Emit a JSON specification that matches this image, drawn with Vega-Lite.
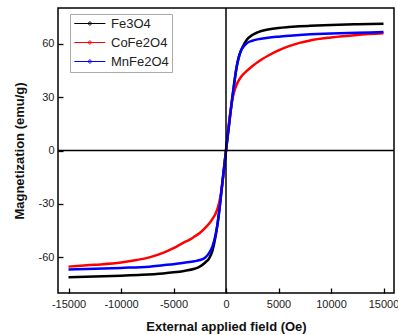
{
  "$schema": "https://vega.github.io/schema/vega-lite/v6.json",
  "width": 336,
  "height": 285,
  "autosize": {"type": "none"},
  "padding": {"left": 58, "top": 8, "right": 4, "bottom": 42},
  "config": {
    "font": "Liberation Sans",
    "view": {"stroke": "#000", "strokeWidth": 1.5},
    "axis": {
      "grid": false, "domain": false, "tickColor": "#000", "tickWidth": 1.3, "labelOverlap": false,
      "labelColor": "#222", "labelFontSize": 11, "labelFont": "Liberation Sans",
      "titleFont": "Liberation Sans", "titleFontSize": 13, "titleFontWeight": "bold", "titleColor": "#111"
    }
  },
  "datasets": {
    "curves": [
      {"H": -15000, "M": -71.2, "s": "Fe3O4"}, {"H": -12500, "M": -70.8, "s": "Fe3O4"}, {"H": -10000, "M": -70.3, "s": "Fe3O4"},
      {"H": -8000, "M": -69.8, "s": "Fe3O4"}, {"H": -6000, "M": -69.0, "s": "Fe3O4"}, {"H": -5000, "M": -68.4, "s": "Fe3O4"},
      {"H": -4000, "M": -67.6, "s": "Fe3O4"}, {"H": -3000, "M": -66.4, "s": "Fe3O4"}, {"H": -2500, "M": -65.2, "s": "Fe3O4"},
      {"H": -2000, "M": -63.0, "s": "Fe3O4"}, {"H": -1600, "M": -60.5, "s": "Fe3O4"}, {"H": -1300, "M": -56.5, "s": "Fe3O4"},
      {"H": -1000, "M": -48.5, "s": "Fe3O4"}, {"H": -800, "M": -41, "s": "Fe3O4"}, {"H": -600, "M": -31.5, "s": "Fe3O4"},
      {"H": -400, "M": -21, "s": "Fe3O4"}, {"H": -200, "M": -10.5, "s": "Fe3O4"}, {"H": 0, "M": 0, "s": "Fe3O4"},
      {"H": 200, "M": 10, "s": "Fe3O4"}, {"H": 400, "M": 20, "s": "Fe3O4"}, {"H": 600, "M": 29.5, "s": "Fe3O4"},
      {"H": 800, "M": 38.5, "s": "Fe3O4"}, {"H": 1000, "M": 46.5, "s": "Fe3O4"}, {"H": 1200, "M": 52, "s": "Fe3O4"},
      {"H": 1500, "M": 57, "s": "Fe3O4"}, {"H": 1750, "M": 60, "s": "Fe3O4"}, {"H": 2000, "M": 62.3, "s": "Fe3O4"},
      {"H": 2500, "M": 64.8, "s": "Fe3O4"}, {"H": 3000, "M": 66.3, "s": "Fe3O4"}, {"H": 4000, "M": 67.9, "s": "Fe3O4"},
      {"H": 5000, "M": 68.8, "s": "Fe3O4"}, {"H": 6000, "M": 69.3, "s": "Fe3O4"}, {"H": 7000, "M": 69.7, "s": "Fe3O4"},
      {"H": 8000, "M": 70.0, "s": "Fe3O4"}, {"H": 10000, "M": 70.5, "s": "Fe3O4"}, {"H": 12500, "M": 70.9, "s": "Fe3O4"},
      {"H": 15000, "M": 71.2, "s": "Fe3O4"},

      {"H": -15000, "M": -65.2, "s": "CoFe2O4"}, {"H": -12500, "M": -64.2, "s": "CoFe2O4"}, {"H": -10000, "M": -62.9, "s": "CoFe2O4"},
      {"H": -8500, "M": -61.5, "s": "CoFe2O4"}, {"H": -7300, "M": -60, "s": "CoFe2O4"}, {"H": -6000, "M": -57.5, "s": "CoFe2O4"},
      {"H": -5000, "M": -54.8, "s": "CoFe2O4"}, {"H": -4000, "M": -51.6, "s": "CoFe2O4"}, {"H": -3500, "M": -50.2, "s": "CoFe2O4"},
      {"H": -3000, "M": -48.3, "s": "CoFe2O4"}, {"H": -2500, "M": -46.3, "s": "CoFe2O4"}, {"H": -2000, "M": -43.5, "s": "CoFe2O4"},
      {"H": -1600, "M": -41, "s": "CoFe2O4"}, {"H": -1300, "M": -38.5, "s": "CoFe2O4"}, {"H": -1000, "M": -35.5, "s": "CoFe2O4"},
      {"H": -800, "M": -32.5, "s": "CoFe2O4"}, {"H": -600, "M": -28, "s": "CoFe2O4"}, {"H": -400, "M": -21, "s": "CoFe2O4"},
      {"H": -200, "M": -11, "s": "CoFe2O4"}, {"H": 0, "M": 0, "s": "CoFe2O4"}, {"H": 200, "M": 11, "s": "CoFe2O4"},
      {"H": 400, "M": 21, "s": "CoFe2O4"}, {"H": 600, "M": 28.5, "s": "CoFe2O4"}, {"H": 800, "M": 33.5, "s": "CoFe2O4"},
      {"H": 1000, "M": 36.8, "s": "CoFe2O4"}, {"H": 1200, "M": 39.2, "s": "CoFe2O4"}, {"H": 1500, "M": 41.8, "s": "CoFe2O4"},
      {"H": 2000, "M": 44.8, "s": "CoFe2O4"}, {"H": 2500, "M": 47.3, "s": "CoFe2O4"}, {"H": 3000, "M": 49.6, "s": "CoFe2O4"},
      {"H": 3500, "M": 51.5, "s": "CoFe2O4"}, {"H": 4000, "M": 53.2, "s": "CoFe2O4"}, {"H": 5000, "M": 56.2, "s": "CoFe2O4"},
      {"H": 6000, "M": 58.6, "s": "CoFe2O4"}, {"H": 7000, "M": 60.4, "s": "CoFe2O4"}, {"H": 8000, "M": 61.8, "s": "CoFe2O4"},
      {"H": 10000, "M": 63.5, "s": "CoFe2O4"}, {"H": 12500, "M": 64.9, "s": "CoFe2O4"}, {"H": 15000, "M": 65.8, "s": "CoFe2O4"},

      {"H": -15000, "M": -66.8, "s": "MnFe2O4"}, {"H": -12500, "M": -66.4, "s": "MnFe2O4"}, {"H": -10000, "M": -65.9, "s": "MnFe2O4"},
      {"H": -7300, "M": -65.2, "s": "MnFe2O4"}, {"H": -6000, "M": -64.4, "s": "MnFe2O4"}, {"H": -5000, "M": -63.8, "s": "MnFe2O4"},
      {"H": -4000, "M": -63.0, "s": "MnFe2O4"}, {"H": -3000, "M": -62.2, "s": "MnFe2O4"}, {"H": -2500, "M": -61.5, "s": "MnFe2O4"},
      {"H": -2000, "M": -60.2, "s": "MnFe2O4"}, {"H": -1600, "M": -57.5, "s": "MnFe2O4"}, {"H": -1300, "M": -54, "s": "MnFe2O4"},
      {"H": -1000, "M": -47.5, "s": "MnFe2O4"}, {"H": -800, "M": -41, "s": "MnFe2O4"}, {"H": -600, "M": -32, "s": "MnFe2O4"},
      {"H": -400, "M": -21, "s": "MnFe2O4"}, {"H": -200, "M": -10.5, "s": "MnFe2O4"}, {"H": 0, "M": 0, "s": "MnFe2O4"},
      {"H": 200, "M": 10, "s": "MnFe2O4"}, {"H": 400, "M": 20, "s": "MnFe2O4"}, {"H": 600, "M": 29.5, "s": "MnFe2O4"},
      {"H": 800, "M": 38.5, "s": "MnFe2O4"}, {"H": 1000, "M": 46.5, "s": "MnFe2O4"}, {"H": 1200, "M": 52, "s": "MnFe2O4"},
      {"H": 1400, "M": 55.8, "s": "MnFe2O4"}, {"H": 1700, "M": 58.5, "s": "MnFe2O4"}, {"H": 2000, "M": 60.3, "s": "MnFe2O4"},
      {"H": 2500, "M": 61.6, "s": "MnFe2O4"}, {"H": 3000, "M": 62.4, "s": "MnFe2O4"}, {"H": 4000, "M": 63.3, "s": "MnFe2O4"},
      {"H": 5000, "M": 63.9, "s": "MnFe2O4"}, {"H": 6000, "M": 64.4, "s": "MnFe2O4"}, {"H": 7000, "M": 64.9, "s": "MnFe2O4"},
      {"H": 8000, "M": 65.2, "s": "MnFe2O4"}, {"H": 10000, "M": 65.7, "s": "MnFe2O4"}, {"H": 12500, "M": 66.1, "s": "MnFe2O4"},
      {"H": 15000, "M": 66.5, "s": "MnFe2O4"}
    ],
    "zero": [{"v": 0}]
  },
  "layer": [
    {
      "data": {"name": "curves"},
      "mark": {"type": "line", "strokeWidth": 2.5, "interpolate": "monotone"},
      "encoding": {
        "x": {
          "field": "H", "type": "quantitative",
          "scale": {"domain": [-16000, 16000], "nice": false},
          "axis": {
            "title": "External applied field (Oe)",
            "values": [-15000, -12500, -10000, -7500, -5000, -2500, 0, 2500, 5000, 7500, 10000, 12500, 15000],
            "labelExpr": "datum.value % 5000 === 0 ? '' + datum.value : ''",
            "tickSize": {"condition": {"test": "datum.value % 5000 === 0", "value": -5}, "value": -3},
            "labelPadding": 10, "titlePadding": 11
          }
        },
        "y": {
          "field": "M", "type": "quantitative",
          "scale": {"domain": [-80, 80], "nice": false},
          "axis": {
            "title": "Magnetization (emu/g)",
            "values": [-60, -30, 0, 30, 60],
            "labelExpr": "'' + datum.value",
            "tickSize": -5,
            "labelPadding": 9, "titlePadding": 12
          }
        },
        "color": {
          "field": "s", "type": "nominal",
          "scale": {"domain": ["Fe3O4", "CoFe2O4", "MnFe2O4"], "range": ["#000000", "#ff0000", "#0000ff"]},
          "legend": {
            "title": null, "orient": "none", "legendX": 12, "legendY": 6,
            "strokeColor": "#aaa", "padding": 3, "fillColor": "#fff",
            "labelFontSize": 13, "labelColor": "#222", "labelFont": "Liberation Sans", "labelOffset": 25,
            "symbolType": "M-1,0H5M1.7,0A0.3,0.3,0,1,1,2.3,0A0.3,0.3,0,1,1,1.7,0Z",
            "symbolSize": 107, "symbolStrokeWidth": 1, "rowPadding": 5
          }
        }
      }
    },
    {
      "data": {"name": "zero"},
      "mark": {"type": "rule", "color": "#000", "strokeWidth": 1.5},
      "encoding": {"x": {"field": "v", "type": "quantitative"}}
    },
    {
      "data": {"name": "zero"},
      "mark": {"type": "rule", "color": "#000", "strokeWidth": 1.5},
      "encoding": {"y": {"field": "v", "type": "quantitative"}}
    }
  ]
}
